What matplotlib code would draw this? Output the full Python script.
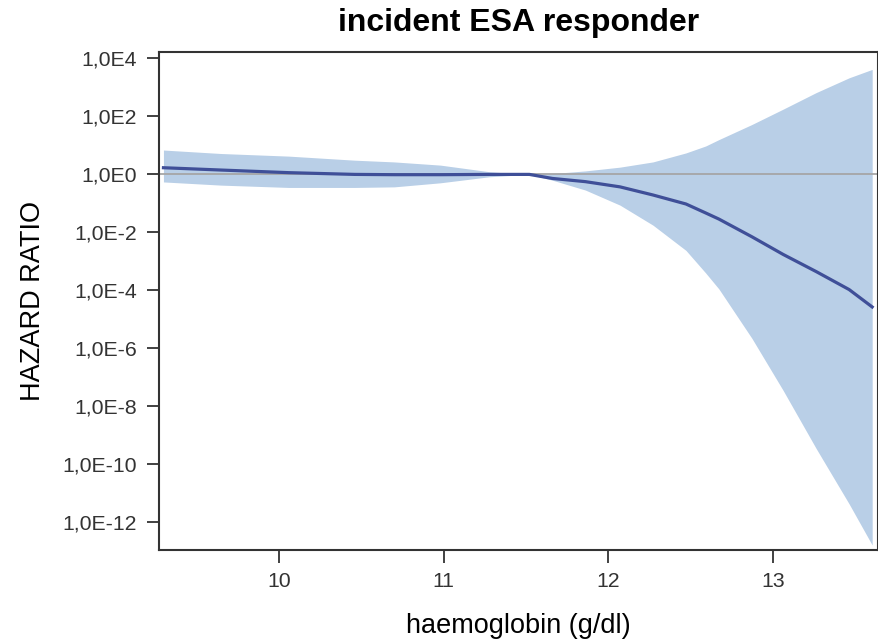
import numpy as np
import matplotlib
matplotlib.use("Agg")
import matplotlib.pyplot as plt
from matplotlib.ticker import FixedLocator, FixedFormatter, NullLocator

plt.rcParams['font.family'] = ['Liberation Sans', 'DejaVu Sans']

# haemoglobin (g/dl)
hb = [9.30, 9.65, 10.06, 10.46, 10.70, 10.98, 11.28, 11.52, 11.66, 11.86,
      12.07, 12.27, 12.47, 12.59, 12.67, 12.87, 13.06, 13.26, 13.46, 13.60]
# log10 hazard ratio: estimate, upper and lower confidence limits
log_hr = [0.23, 0.15, 0.06, 0.00, -0.01, -0.01, 0.00, 0.00, -0.14, -0.25,
          -0.43, -0.71, -1.02, -1.33, -1.54, -2.15, -2.76, -3.35, -3.97, -4.57]
log_upper = [0.84, 0.72, 0.63, 0.49, 0.43, 0.32, 0.09, 0.00, 0.03, 0.12,
             0.25, 0.43, 0.74, 0.98, 1.20, 1.72, 2.25, 2.82, 3.33, 3.62]
log_lower = [-0.26, -0.37, -0.45, -0.45, -0.43, -0.29, -0.08, 0.00, -0.20, -0.54,
             -1.06, -1.75, -2.62, -3.40, -3.95, -5.65, -7.45, -9.45, -11.36, -12.78]

x_ticks = [10, 11, 12, 13]
y_tick_exps = [4, 2, 0, -2, -4, -6, -8, -10, -12]
y_tick_labels = ["1,0E4", "1,0E2", "1,0E0", "1,0E-2", "1,0E-4", "1,0E-6",
                 "1,0E-8", "1,0E-10", "1,0E-12"]

hb_a = np.array(hb)
hr = 10.0 ** np.array(log_hr)
upper = 10.0 ** np.array(log_upper)
lower = 10.0 ** np.array(log_lower)

fig = plt.figure(figsize=(8.79, 6.41), dpi=100)
ax = fig.add_axes([159 / 879, 1 - 550 / 641, 1 - 159 / 879 - 0.001, (550 - 52) / 641])

ax.fill_between(hb_a, lower, upper, color='#b9cfe7', linewidth=0, zorder=1)
ax.axhline(1.0, color='#a6a6a6', linewidth=1.3, zorder=2)
ax.plot(hb_a, hr, color='#3f4f98', linewidth=2.3, zorder=3)

ax.set_yscale('log')
ax.set_xlim(9.273, 13.636)
ax.set_ylim(10 ** -12.95, 10 ** 4.22)

ax.yaxis.set_major_locator(FixedLocator([10.0 ** e for e in y_tick_exps]))
ax.yaxis.set_major_formatter(FixedFormatter(y_tick_labels))
ax.yaxis.set_minor_locator(NullLocator())
ax.xaxis.set_major_locator(FixedLocator(x_ticks))
ax.set_xticklabels([str(t) for t in x_ticks])
ax.xaxis.set_minor_locator(NullLocator())

ax.tick_params(axis='both', direction='out', length=9, width=1.3, color='#333333',
               labelsize=15.3, labelcolor='#333333', pad=7)

for s in ax.spines.values():
    s.set_color('#333333')
    s.set_linewidth(1.5)

ax.set_title("incident ESA responder", fontsize=23, fontweight='bold', pad=15)
ax.set_xlabel("haemoglobin (g/dl)", fontsize=19.5, labelpad=16)
ax.set_ylabel("HAZARD RATIO", fontsize=19.5, labelpad=12)

fig.savefig("out.png", dpi=100)
